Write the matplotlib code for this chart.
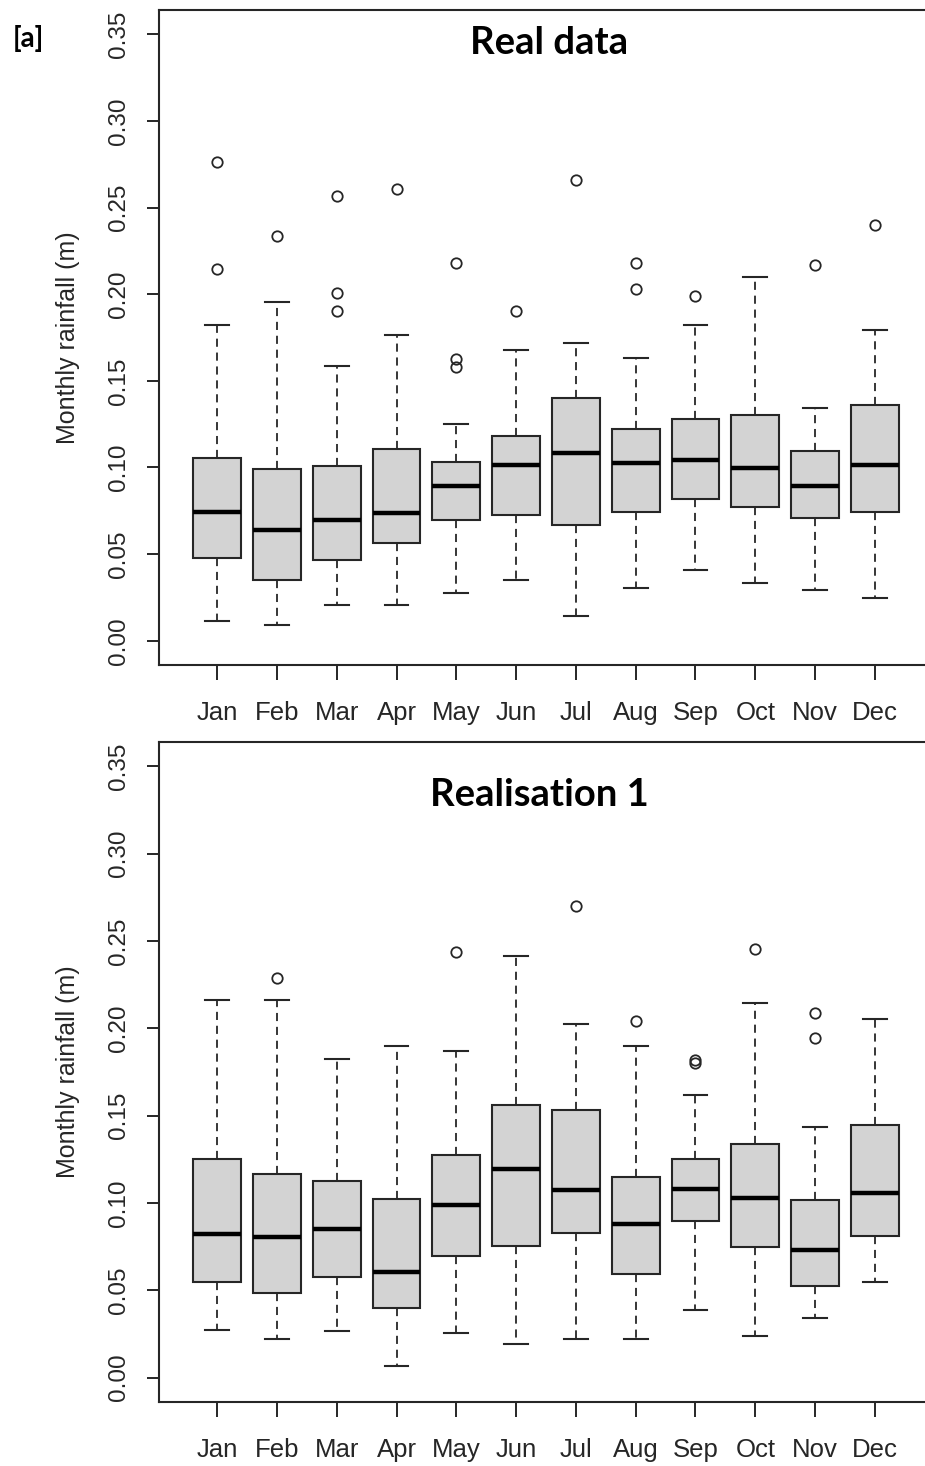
import matplotlib.pyplot as plt

MONTHS = ["Jan", "Feb", "Mar", "Apr", "May", "Jun",
          "Jul", "Aug", "Sep", "Oct", "Nov", "Dec"]
YTICKS = [0.00, 0.05, 0.10, 0.15, 0.20, 0.25, 0.30, 0.35]

# observed monthly rainfall (m): whisker ends, quartiles, medians, outliers
real_lo = [0.0115, 0.0091, 0.0209, 0.0209, 0.0275, 0.0350,
           0.0144, 0.0304, 0.0408, 0.0333, 0.0294, 0.0248]
real_q1 = [0.0475, 0.0350, 0.0466, 0.0565, 0.0696, 0.0725,
           0.0668, 0.0743, 0.0818, 0.0771, 0.0706, 0.0744]
real_med = [0.0744, 0.0641, 0.0696, 0.0735, 0.0893, 0.1016,
            0.1081, 0.1025, 0.1043, 0.0997, 0.0894, 0.1016]
real_q3 = [0.1052, 0.0994, 0.1006, 0.1108, 0.1033, 0.1183,
           0.1398, 0.1222, 0.1277, 0.1304, 0.1096, 0.1360]
real_hi = [0.1822, 0.1952, 0.1585, 0.1766, 0.1248, 0.1679,
           0.1718, 0.1633, 0.1822, 0.2100, 0.1343, 0.1793]
real_out = [[0.2764, 0.2147], [0.2337], [0.2568, 0.2008, 0.1904], [0.2608],
            [0.2181, 0.1625, 0.1577], [0.1904], [0.2660], [0.2181, 0.2031],
            [0.1987], [], [0.2170], [0.2400]]

# first simulated realisation
sim_lo = [0.0274, 0.0218, 0.0264, 0.0069, 0.0257, 0.0190,
          0.0218, 0.0218, 0.0389, 0.0237, 0.0341, 0.0548]
sim_q1 = [0.0548, 0.0483, 0.0576, 0.0397, 0.0697, 0.0755,
          0.0829, 0.0594, 0.0897, 0.0745, 0.0523, 0.0810]
sim_med = [0.0820, 0.0803, 0.0849, 0.0603, 0.0989, 0.1195,
           0.1075, 0.0878, 0.1082, 0.1027, 0.0728, 0.1057]
sim_q3 = [0.1251, 0.1167, 0.1128, 0.1025, 0.1272, 0.1561,
          0.1534, 0.1148, 0.1251, 0.1337, 0.1017, 0.1448]
sim_hi = [0.2163, 0.2163, 0.1824, 0.1898, 0.1872, 0.2414,
          0.2025, 0.1898, 0.1619, 0.2144, 0.1433, 0.2052]
sim_out = [[], [0.2287], [], [], [0.2437], [], [0.2701], [0.2040],
           [0.1816, 0.1799], [0.2454], [0.2088, 0.1944], []]

FIG_W, FIG_H = 925, 1466
INK = "#262626"
TICK_FONT = ["Liberation Sans", "DejaVu Sans"]
TITLE_FONT = ["Lato", "DejaVu Sans"]


def make_stats(lo, q1, med, q3, hi, out):
    return [dict(whislo=a, q1=b, med=c, q3=d, whishi=e, fliers=f, label=m)
            for a, b, c, d, e, f, m in zip(lo, q1, med, q3, hi, out, MONTHS)]


def draw_panel(ax, stats):
    ax.bxp(stats, positions=range(1, 13), widths=0.8, capwidths=0.4,
           patch_artist=True,
           boxprops=dict(facecolor="#d3d3d3", edgecolor=INK, linewidth=1.5),
           medianprops=dict(color="black", linewidth=3.2, solid_capstyle="butt"),
           whiskerprops=dict(color=INK, linewidth=1.3, linestyle=(0, (4.5, 3.2))),
           capprops=dict(color=INK, linewidth=1.5),
           flierprops=dict(marker="o", markerfacecolor="none",
                           markeredgecolor=INK, markersize=7.5,
                           markeredgewidth=1.3))
    ax.set_xlim(0.02, 12.98)
    ax.set_ylim(-0.014, 0.364)

    ax.set_yticks(YTICKS)
    ax.set_yticklabels([f"{v:.2f}" for v in YTICKS], rotation=90, va="center",
                       family=TICK_FONT, fontsize=17.5, color=INK)
    ax.set_xticks(range(1, 13))
    ax.set_xticklabels(MONTHS, family=TICK_FONT, fontsize=18.5, color=INK)
    ax.tick_params(axis="y", direction="out", length=8.5, width=1.4,
                   color=INK, pad=12)
    ax.tick_params(axis="x", direction="out", length=11, width=1.4,
                   color=INK, pad=15)

    for side in ("left", "bottom", "top", "right"):
        ax.spines[side].set_color(INK)
        ax.spines[side].set_linewidth(1.5)

    ax.set_ylabel("Monthly rainfall (m)", family=TICK_FONT, fontsize=18,
                  color=INK)
    ax.yaxis.set_label_coords(-0.101, 0.5)


def px_text(x, y, s, size):
    fig.text(x / FIG_W, 1 - y / FIG_H, s, ha="center", va="center",
             family=TITLE_FONT, fontweight="bold", fontsize=size, color="black")


fig = plt.figure(figsize=(FIG_W / 100, FIG_H / 100), dpi=100)

left = 158.5 / FIG_W
width = 775 / FIG_W
ax_top = fig.add_axes([left, (FIG_H - 665) / FIG_H, width, 655 / FIG_H])
ax_bot = fig.add_axes([left, (FIG_H - 1402) / FIG_H, width, 660 / FIG_H])

draw_panel(ax_top, make_stats(real_lo, real_q1, real_med, real_q3, real_hi,
                              real_out))
draw_panel(ax_bot, make_stats(sim_lo, sim_q1, sim_med, sim_q3, sim_hi,
                              sim_out))

px_text(549, 43, "Real data", 27.5)
px_text(539, 795, "Realisation 1", 27.5)
px_text(28, 39, "[a]", 20)

fig.savefig("out.png", dpi=100)
